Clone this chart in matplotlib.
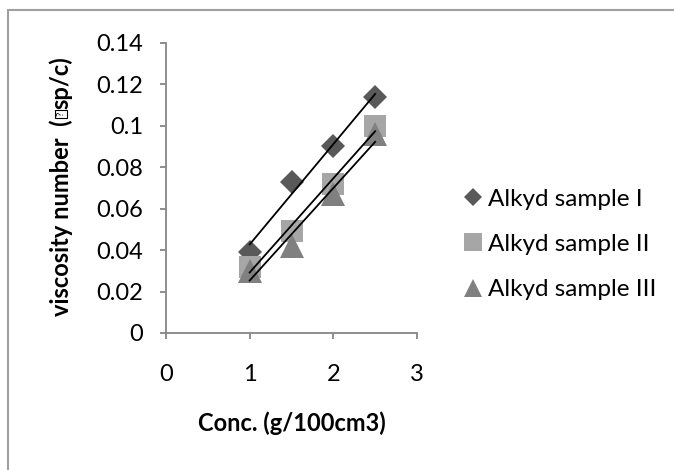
import numpy as np
import matplotlib.pyplot as plt
from matplotlib.patches import Rectangle

plt.rcParams['font.family'] = ['Lato', 'DejaVu Sans']

# data
conc = [1, 1.5, 2, 2.5]
sample_1 = [0.039, 0.073, 0.090, 0.114]
sample_2 = [0.032, 0.049, 0.072, 0.100]
sample_3 = [0.030, 0.042, 0.067, 0.096]
labels = ["Alkyd sample I", "Alkyd sample II", "Alkyd sample III"]

W, H = 674, 470
fig = plt.figure(figsize=(W / 100, H / 100), dpi=100)
ax = fig.add_axes([0.2463, 0.2915, 0.3724, 0.6176])

styles = [("D", "#595959", 12), ("s", "#a6a6a6", 15.5), ("^", "#808080", 17)]
for vals, lab, (mk, col, ms) in zip([sample_1, sample_2, sample_3], labels, styles):
    ax.plot(conc, vals, linestyle="none", marker=mk, color=col, markersize=ms,
            markeredgewidth=0, label=lab, zorder=2)
    # linear trend line
    k, b = np.polyfit(conc, vals, 1)
    xs = np.array([conc[0], conc[-1]])
    ax.plot(xs, k * xs + b, color="black", lw=1.3, zorder=3)

ax.set_xlim(0, 3)
ax.set_ylim(0, 0.14)
ax.set_xticks([0, 1, 2, 3])
ax.set_yticks(np.arange(0, 0.141, 0.02))
ax.set_yticklabels(["0", "0.02", "0.04", "0.06", "0.08", "0.1", "0.12", "0.14"])

for s in ["top", "right"]:
    ax.spines[s].set_visible(False)
for s in ["left", "bottom"]:
    ax.spines[s].set_color("#868686")
    ax.spines[s].set_linewidth(1.3)
ax.tick_params(axis="both", colors="#868686", length=4.5, width=1.3,
               labelsize=17, labelcolor="black")
ax.tick_params(axis="y", pad=12)
ax.tick_params(axis="x", pad=18)

ax.set_xlabel("Conc. (g/100cm3)", fontsize=17, fontweight="bold", labelpad=19)

# y label in three pieces: the middle glyph shows as a boxed "?" in the reference
renderer = fig.canvas.get_renderer()
lx = 61 / W
kw = dict(rotation=90, ha="center", va="bottom", fontsize=17, fontweight="bold")
t1 = fig.text(lx, 0, "viscosity number  (", **kw)
t2 = fig.text(lx, 0, "?", rotation=90, ha="center", va="bottom", fontsize=7,
              bbox=dict(boxstyle="square,pad=0.15", fc="white", ec="black", lw=0.8))
t3 = fig.text(lx, 0, "sp/c)", **kw)
h1 = t1.get_window_extent(renderer).height
h2 = t2.get_window_extent(renderer).height
h3 = t3.get_window_extent(renderer).height
gap = 3
total = h1 + h2 + h3 + 2 * gap
y0 = (H - 186) - total / 2
t1.set_y(y0 / H)
t2.set_y((y0 + h1 + gap) / H)
t3.set_y((y0 + h1 + h2 + 2 * gap) / H)

fig.legend(loc="center left", bbox_to_anchor=(0.67, 0.48), frameon=False,
           fontsize=17.5, handletextpad=0.1, labelspacing=1.0, handlelength=1.0,
           markerscale=0.8, borderaxespad=0)

# chart area border
fig.add_artist(Rectangle((8 / W, -0.1), 1.2, 0.1 + 1 - 10 / H,
                         transform=fig.transFigure, fill=False,
                         edgecolor="#a0a0a0", lw=1.5))

fig.savefig("out.png", dpi=100)
